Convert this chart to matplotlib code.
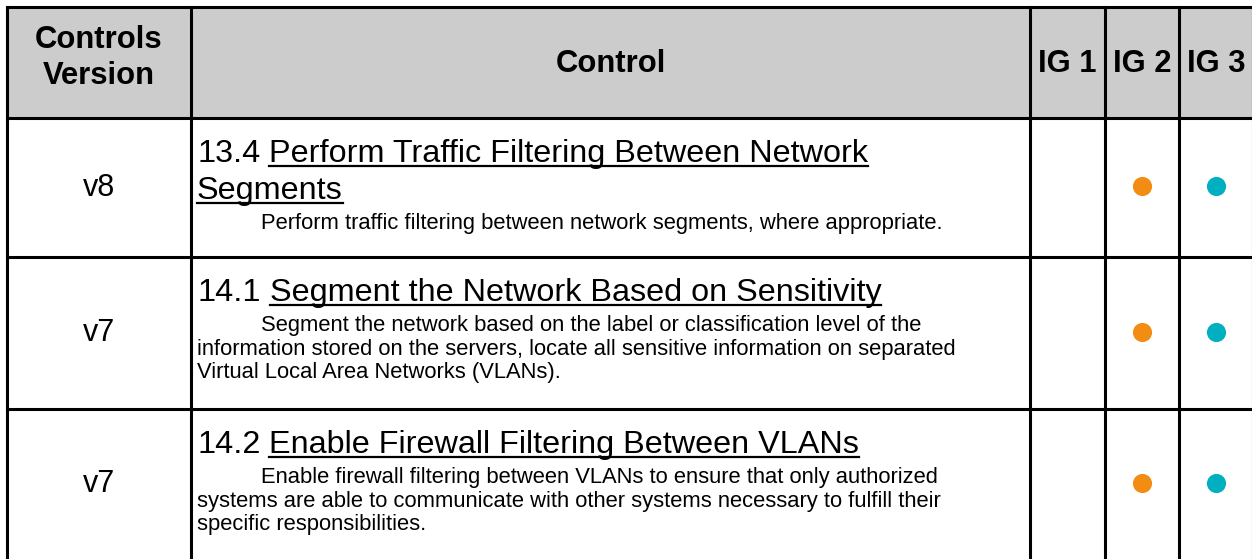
import matplotlib
matplotlib.use("Agg")
import matplotlib.pyplot as plt
from matplotlib import font_manager

# ---------------------------------------------------------------------------
# table content
# ---------------------------------------------------------------------------
HEADERS = ["Controls\nVersion", "Control", "IG 1", "IG 2", "IG 3"]
VERSIONS = ["v8", "v7", "v7"]
NUMBERS = ["13.4", "14.1", "14.2"]
TITLES = [
    ["Perform Traffic Filtering Between Network", "Segments"],
    ["Segment the Network Based on Sensitivity"],
    ["Enable Firewall Filtering Between VLANs"],
]
DESCRIPTIONS = [
    ["Perform traffic filtering between network segments, where appropriate."],
    ["Segment the network based on the label or classification level of the",
     "information stored on the servers, locate all sensitive information on separated",
     "Virtual Local Area Networks (VLANs)."],
    ["Enable firewall filtering between VLANs to ensure that only authorized",
     "systems are able to communicate with other systems necessary to fulfill their",
     "specific responsibilities."],
]
IG1 = [False, False, False]
IG2 = [True, True, True]
IG3 = [True, True, True]

# ---------------------------------------------------------------------------
# layout (pixels, y down)
# ---------------------------------------------------------------------------
W, H = 1252, 559
COL_X = [7, 191, 1030, 1105, 1179, 1253]
ROW_Y = [7, 118, 257, 409, 562]
HEAD_BG = "#cccccc"
IG_COLORS = [None, "#f28c12", "#00b0c0"]
TEXT_X = 197
INDENT = 64

names = {f.name for f in font_manager.fontManager.ttflist}
BODY_FONT = "Liberation Sans Narrow" if "Liberation Sans Narrow" in names else "Liberation Sans"
HEAD_FONT = "Liberation Sans"

fig = plt.figure(figsize=(W / 100, H / 100), dpi=100)
ax = fig.add_axes([0, 0, 1, 1])
ax.set_xlim(0, W)
ax.set_ylim(H, 0)
ax.axis("off")
renderer = fig.canvas.get_renderer()


def text_width(s, size, family, weight="normal"):
    t = ax.text(0, 0, s, fontsize=size, family=family, weight=weight)
    w = t.get_window_extent(renderer).width
    t.remove()
    return w


# fit body font sizes to line widths
title_size = 20 * 671 / text_width("13.4 Perform Traffic Filtering Between Network", 20, BODY_FONT)
desc_size = 14 * (671 + 788) / (text_width(DESCRIPTIONS[0][0], 14, BODY_FONT)
                                + text_width(DESCRIPTIONS[1][1], 14, BODY_FONT))

# header background + grid
ax.fill_between([COL_X[0], COL_X[-1]], ROW_Y[0], ROW_Y[1], color=HEAD_BG, lw=0)
for x in COL_X:
    ax.plot([x, x], [ROW_Y[0], ROW_Y[-1]], color="black", lw=2.2, solid_capstyle="projecting")
for y in ROW_Y:
    ax.plot([COL_X[0], COL_X[-1]], [y, y], color="black", lw=2.2, solid_capstyle="projecting")

# headers
head_y = (ROW_Y[0] + ROW_Y[1]) / 2
for i, h in enumerate(HEADERS):
    cx = (COL_X[i] + COL_X[i + 1]) / 2
    ax.text(cx, head_y - (4.5 if "\n" in h else -1), h, ha="center", va="center", fontsize=22.3,
            family=HEAD_FONT, weight="bold", linespacing=1.27)

# body rows
for r in range(len(VERSIONS)):
    top, bot = ROW_Y[r + 1], min(ROW_Y[r + 2], H)
    mid = (top + bot) / 2
    ax.text((COL_X[0] + COL_X[1]) / 2, mid, VERSIONS[r], ha="center", va="center",
            fontsize=22, family=HEAD_FONT)

    base = top + 44
    num = NUMBERS[r] + " "
    ax.text(TEXT_X, base, NUMBERS[r], va="baseline", fontsize=title_size, family=BODY_FONT)
    for k, line in enumerate(TITLES[r]):
        y = base + 37 * k
        x0 = TEXT_X
        if k == 0:
            x0 = TEXT_X + text_width(num + "P", title_size, BODY_FONT) - text_width("P", title_size, BODY_FONT)
        t = ax.text(x0, y, line, va="baseline", fontsize=title_size, family=BODY_FONT)
        ext = t.get_window_extent(renderer)
        ax.plot([x0, x0 + ext.width], [y + 4, y + 4], color="black", lw=1.6)

    dy = base + 37 * (len(TITLES[r]) - 1) + 30
    for k, line in enumerate(DESCRIPTIONS[r]):
        x0 = TEXT_X + (INDENT if k == 0 else 0)
        ax.text(x0, dy + 23.5 * k, line, va="baseline", fontsize=desc_size, family=BODY_FONT)

    for j, flags in enumerate([IG1, IG2, IG3]):
        if flags[r]:
            cx = (COL_X[j + 2] + COL_X[j + 3]) / 2
            ax.scatter([cx], [mid - 1.5], s=190, color=IG_COLORS[j], lw=0, zorder=3)

fig.savefig("out.png", dpi=100)
